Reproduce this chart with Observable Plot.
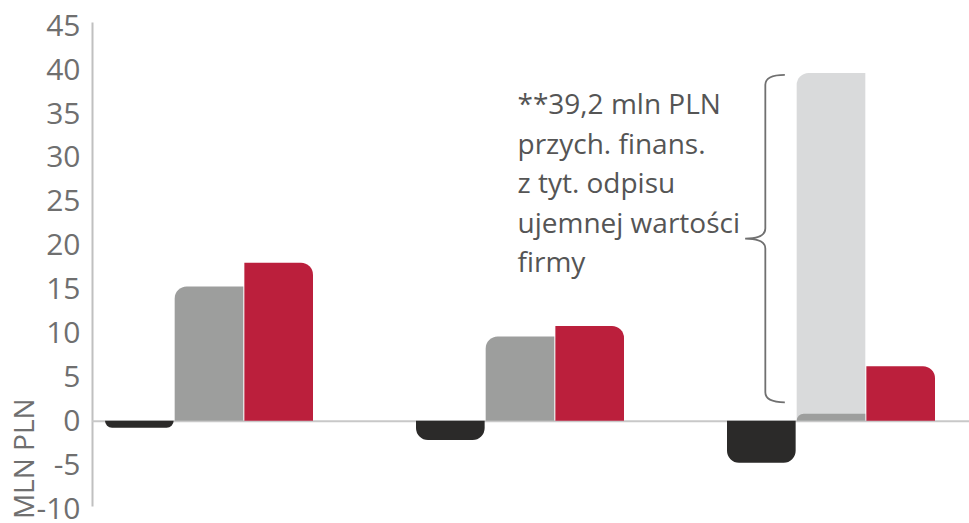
<!DOCTYPE html>
<html><head><meta charset="utf-8">
<script src="https://cdn.jsdelivr.net/npm/d3@7"></script>
<script src="https://cdn.jsdelivr.net/npm/@observablehq/plot@0.6"></script>
<style>body{margin:0;background:#fff} svg{display:block}</style>
</head><body><div id="chart"></div>
<script>
const groups = ["Okres 1", "Okres 2", "Okres 3"];
const darkValues = [-0.8, -2.2, -4.8];
const greyValues = [15.3, 9.6, 0.8];
const redValues = [18.0, 10.8, 6.2];
const extraValues = [0, 0, 38.8];
const yTicks = [-10, -5, 0, 5, 10, 15, 20, 25, 30, 35, 40, 45];
const noteLines = ["**39,2 mln PLN", "przych. finans.", "z tyt. odpisu", "ujemnej wartości", "firmy"];
const axisTitle = "MLN PLN";

const colors = {dark: "#2b2a29", grey: "#9d9e9d", red: "#bb1f3c", light: "#d9dadb"};
const xRange = [104, 937], pad = 0.33;
const step = (xRange[1] - xRange[0]) / (groups.length - pad);
const bw = step * (1 - pad);
const w = bw / 3;
const R = 12;

const dark = groups.map((g, i) => ({g, v: darkValues[i]}));
const grey = groups.map((g, i) => ({g, v: greyValues[i]}));
const red = groups.map((g, i) => ({g, v: redValues[i]}));
const extra = groups.map((g, i) => ({g, y1: 0, y2: greyValues[i] + extraValues[i], e: extraValues[i]})).filter(d => d.e > 0);

const bracket = {top: 39.4, bottom: 2.1};

function bracketMark(index, scales) {
  const x0 = scales.x(groups[2]);
  const y = scales.y;
  const vX = x0 + 0.55 * w, tipX = x0 + 0.83 * w, midX = x0 + 0.26 * w;
  const yT = y(bracket.top), yB = y(bracket.bottom), yM = (yT + yB) / 2;
  const r = 10;
  const d = `M${tipX},${yT} Q${vX},${yT} ${vX},${yT + r} L${vX},${yM - r} Q${vX},${yM} ${midX},${yM} Q${vX},${yM} ${vX},${yM + r} L${vX},${yB - r} Q${vX},${yB} ${tipX},${yB}`;
  return d3.create("svg:path").attr("d", d).attr("fill", "none").attr("stroke", "#707070").attr("stroke-width", 1.8).node();
}

const chart = Plot.plot({
  width: 969, height: 523,
  marginLeft: 92, marginRight: 0, marginTop: 23, marginBottom: 18,
  style: {fontFamily: "'Open Sans', sans-serif", background: "#fff"},
  x: {domain: groups, range: xRange, paddingInner: pad, paddingOuter: 0, axis: null},
  y: {domain: [-9.6, 45.3], axis: null},
  marks: [
    Plot.axisY(yTicks, {tickSize: 0, tickPadding: 12, fontSize: 30, fill: "#6f6f6f", tickFormat: d => String(d)}),
    Plot.frame({anchor: "left", stroke: "#c0c0c0", strokeWidth: 2}),
    Plot.ruleY([0], {stroke: "#c8c8c8", strokeWidth: 2}),
    Plot.barY(extra, {x: "g", y1: "y1", y2: "y2", fill: colors.light, insetLeft: w, insetRight: w, rx1y1: R}),
    Plot.barY(dark, {x: "g", y: "v", fill: colors.dark, insetRight: 2 * w, ry2: R}),
    Plot.barY(grey, {x: "g", y: "v", fill: colors.grey, insetLeft: w, insetRight: w, rx1y1: R}),
    Plot.barY(red, {x: "g", y: "v", fill: colors.red, insetLeft: 2 * w, rx2y1: R}),
    Plot.text([{g: groups[1], v: 38.2, t: noteLines.join("\n")}], {x: "g", y: "v", text: "t", textAnchor: "start", lineAnchor: "top", lineHeight: 1.414, fontSize: 28, fill: "#555", dx: -3}),
    bracketMark,
    Plot.text([{v: 2.6, t: axisTitle}], {y: "v", text: "t", frameAnchor: "left", dx: -67, rotate: -90, textAnchor: "end", fontSize: 28, fill: "#6f6f6f"})
  ]
});
document.getElementById("chart").appendChild(chart);
</script>
</body></html>
